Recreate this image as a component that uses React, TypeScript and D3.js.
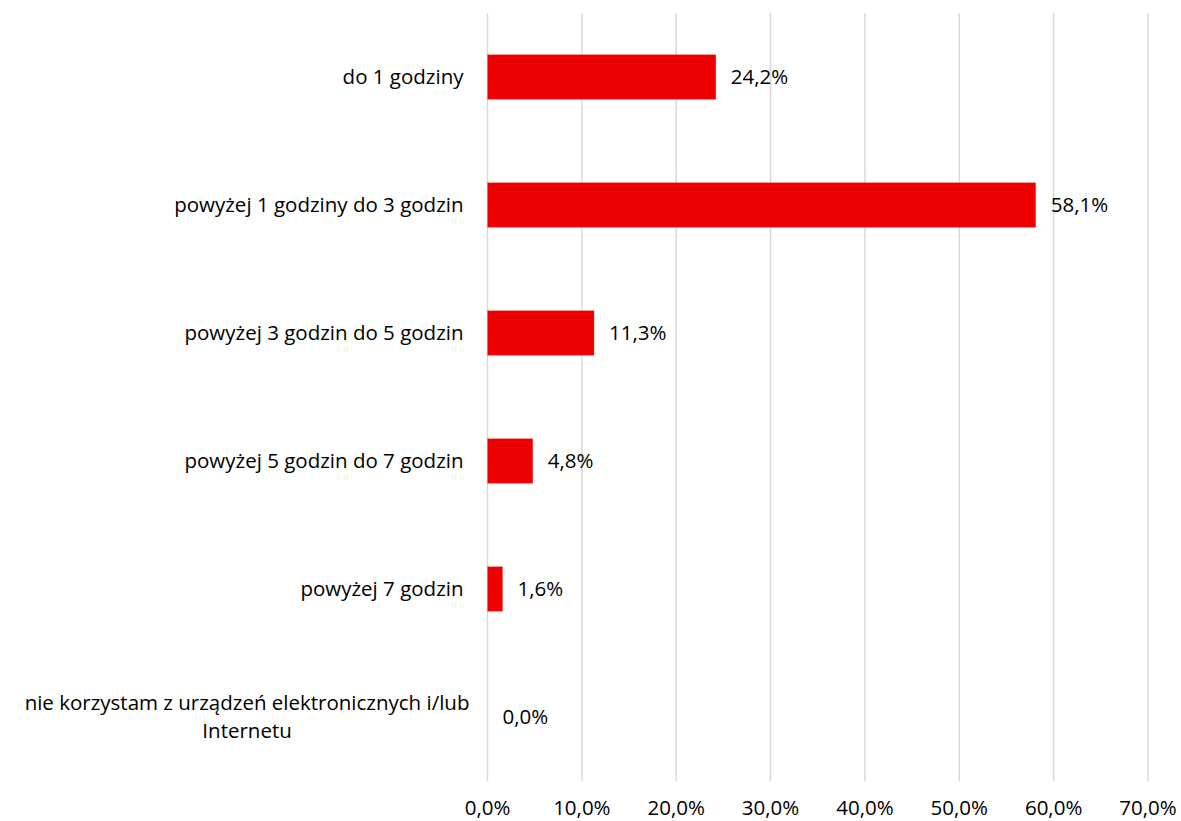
import { useEffect, useRef } from "react";
import * as d3 from "d3";

const WIDTH = 1181;
const HEIGHT = 821;
const MARGIN = { top: 13, right: 33, bottom: 40, left: 487.5 };

// categories, top to bottom
const categories = [
  "do 1 godziny",
  "powyżej 1 godziny do 3 godzin",
  "powyżej 3 godzin do 5 godzin",
  "powyżej 5 godzin do 7 godzin",
  "powyżej 7 godzin",
  "nie korzystam z urządzeń elektronicznych i/lub Internetu",
];
// wrapped label lines (as in the original)
const categoryLines = [
  ["do 1 godziny"],
  ["powyżej 1 godziny do 3 godzin"],
  ["powyżej 3 godzin do 5 godzin"],
  ["powyżej 5 godzin do 7 godzin"],
  ["powyżej 7 godzin"],
  ["nie korzystam z urządzeń elektronicznych i/lub", "Internetu"],
];
const values = [24.2, 58.1, 11.3, 4.8, 1.6, 0.0];
const ticks = [0, 10, 20, 30, 40, 50, 60, 70];

const FONT = "'Open Sans', sans-serif";
const FS = 20.5;
const fmt = (v: number) => v.toFixed(1).replace(".", ",") + "%";

const App = () => {
  const ref = useRef<SVGSVGElement>(null);

  useEffect(() => {
    document.body.style.margin = "0";
    const svg = d3.select(ref.current);
    svg.selectAll("*").remove();

    const boundsW = WIDTH - MARGIN.left - MARGIN.right;
    const boundsH = HEIGHT - MARGIN.top - MARGIN.bottom;

    const x = d3.scaleLinear().domain([0, 70]).range([0, boundsW]);
    const y = d3
      .scaleBand()
      .domain(categories)
      .range([0, boundsH])
      .paddingInner(0.65)
      .paddingOuter(0.325);

    const g = svg
      .append("g")
      .attr("transform", `translate(${MARGIN.left},${MARGIN.top})`);

    // gridlines
    g.append("g")
      .selectAll("line")
      .data(ticks)
      .join("line")
      .attr("x1", (d) => x(d))
      .attr("x2", (d) => x(d))
      .attr("y1", 0)
      .attr("y2", boundsH)
      .attr("stroke", "#d9d9d9")
      .attr("stroke-width", 1.5);

    // x tick labels
    g.append("g")
      .selectAll("text")
      .data(ticks)
      .join("text")
      .attr("x", (d) => x(d))
      .attr("y", boundsH + 27)
      .attr("dy", "0.35em")
      .attr("text-anchor", "middle")
      .attr("font-family", FONT)
      .attr("font-size", FS)
      .attr("fill", "#000")
      .text((d) => fmt(d));

    // bars
    g.append("g")
      .selectAll("rect")
      .data(values)
      .join("rect")
      .attr("x", 0)
      .attr("y", (_, i) => y(categories[i])!)
      .attr("width", (d) => x(d))
      .attr("height", y.bandwidth())
      .attr("fill", "#ee0000");

    // value labels
    g.append("g")
      .selectAll("text")
      .data(values)
      .join("text")
      .attr("x", (d) => x(d) + 15)
      .attr("y", (_, i) => y(categories[i])! + y.bandwidth() / 2)
      .attr("dy", "0.35em")
      .attr("font-family", FONT)
      .attr("font-size", FS)
      .attr("fill", "#000")
      .text((d) => fmt(d));

    // category labels
    const labelRight = -24;
    const lineH = 28;
    categoryLines.forEach((lines, i) => {
      const cy = y(categories[i])! + y.bandwidth() / 2;
      const t = g
        .append("text")
        .attr("font-family", FONT)
        .attr("font-size", FS)
        .attr("fill", "#000");
      lines.forEach((ln, j) => {
        t.append("tspan")
          .attr("y", cy + (j - (lines.length - 1) / 2) * lineH)
          .attr("dy", "0.35em")
          .text(ln);
      });
      if (lines.length === 1) {
        t.attr("text-anchor", "end").selectAll("tspan").attr("x", labelRight);
      } else {
        // center the block, right edge aligned to the widest line
        const widths = t
          .selectAll<SVGTSpanElement, unknown>("tspan")
          .nodes()
          .map((n) => n.getComputedTextLength());
        const cx = labelRight - d3.max(widths)! / 2 + 6;
        t.attr("text-anchor", "middle").selectAll("tspan").attr("x", cx);
      }
    });
  }, []);

  return <svg ref={ref} width={WIDTH} height={HEIGHT} style={{ display: "block" }} />;
};

export default App;
